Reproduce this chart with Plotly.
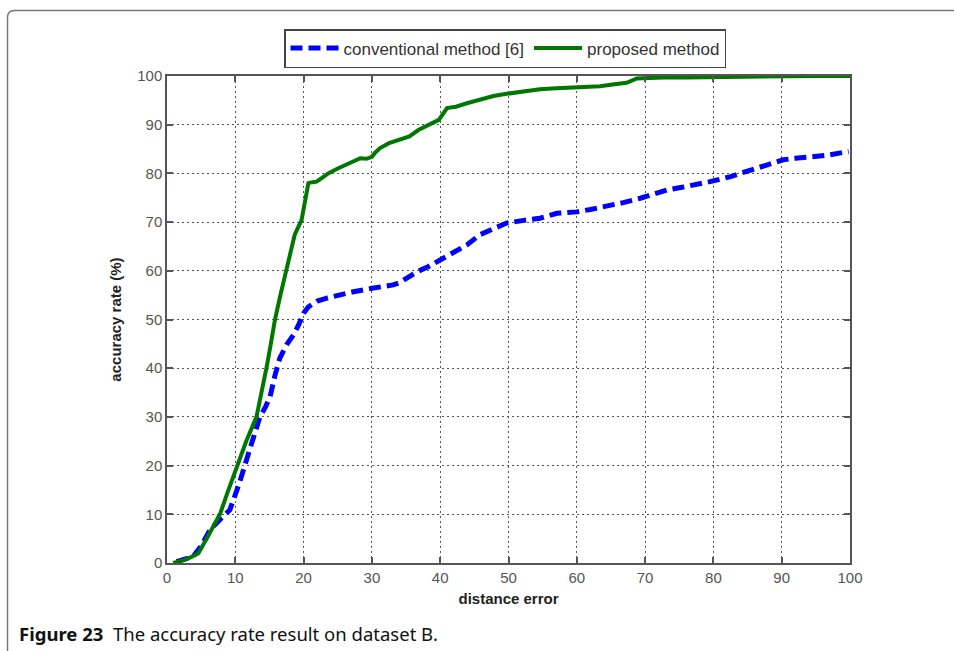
import plotly.graph_objects as go

# ---- data ----
conv_x = [1.4, 2.5, 3.8, 5.0, 6.3, 7.8, 9.2, 10.5, 11.7, 12.7, 13.6, 14.4, 15.1, 15.8, 16.5, 17.5,
          18.5, 19.3, 20.0, 20.7, 22.0, 23.4, 25.5, 27.3, 30.0, 31.5, 33.1, 34.1, 35.5, 36.6, 38.3,
          40.0, 42.0, 43.9, 45.8, 47.8, 49.7, 52.0, 54.6, 57.1, 60.0, 62.0, 64.4, 66.8, 69.3, 71.2,
          73.2, 75.6, 78.0, 79.5, 82.4, 85.4, 87.8, 90.2, 92.0, 93.7, 96.6, 99.8]
conv_y = [0.3, 0.8, 1.3, 3.5, 6.8, 9.0, 10.9, 16.0, 21.1, 25.5, 30.0, 32.0, 34.2, 38.5, 42.0, 44.8,
          46.8, 49.0, 51.3, 52.6, 53.8, 54.4, 55.2, 55.7, 56.4, 56.7, 57.1, 57.6, 58.8, 59.8, 60.9,
          62.2, 63.9, 65.3, 67.4, 68.7, 69.8, 70.3, 70.8, 71.8, 72.1, 72.6, 73.2, 74.0, 74.9, 75.7,
          76.6, 77.2, 77.8, 78.3, 79.3, 80.7, 81.9, 82.8, 83.1, 83.3, 83.7, 84.5]

prop_x = [0.9, 2.5, 3.5, 4.6, 6.0, 7.8, 9.0, 10.2, 11.6, 13.1, 13.9, 14.6, 15.2, 15.8, 16.6, 17.5,
          18.1, 18.7, 19.7, 20.2, 20.7, 21.3, 21.9, 22.7, 23.6, 25.0, 26.5, 28.3, 29.2, 30.0, 30.5,
          31.2, 32.5, 34.1, 35.5, 36.8, 38.0, 39.0, 39.8, 41.0, 42.3, 43.9, 45.8, 47.8, 49.5, 51.7,
          53.2, 54.6, 57.0, 59.5, 61.5, 63.4, 65.5, 67.3, 68.8, 70.5, 72.7, 76.0, 80.0, 85.0, 88.0,
          91.0, 95.0, 100.0]
prop_y = [0.0, 0.6, 1.2, 2.0, 5.5, 10.2, 15.0, 19.8, 25.0, 30.0, 35.0, 40.3, 45.0, 49.9, 55.0, 60.2,
          64.0, 67.4, 70.4, 74.0, 78.0, 78.2, 78.3, 79.1, 80.0, 81.0, 81.9, 83.1, 83.0, 83.4, 84.3,
          85.2, 86.2, 86.9, 87.6, 88.9, 89.8, 90.6, 91.0, 93.4, 93.7, 94.4, 95.1, 95.9, 96.3, 96.8,
          97.0, 97.3, 97.5, 97.7, 97.8, 97.9, 98.3, 98.6, 99.5, 99.6, 99.7, 99.7, 99.8, 99.8, 99.9,
          100.0, 100.0, 100.0]

x_ticks = [0, 10, 20, 30, 40, 50, 60, 70, 80, 90, 100]
y_ticks = [0, 10, 20, 30, 40, 50, 60, 70, 80, 90, 100]

series_names = ["conventional method [6]", "proposed method"]
x_title = "distance error"
y_title = "accuracy rate (%)"
caption = "<b>Figure 23</b>  The accuracy rate result on dataset B."

# ---- figure ----
W, H = 954, 651
L, R, T, B = 167, 104, 76, 88
pw, ph = W - L - R, H - T - B

def px_x(p):
    return (p - L) / pw

def px_y(p):
    return (H - B - p) / ph

fig = go.Figure()
fig.add_trace(go.Scatter(x=conv_x, y=conv_y, mode="lines", name=series_names[0],
                         line=dict(color="#0000ff", width=5, dash="12px,6px")))
fig.add_trace(go.Scatter(x=prop_x, y=prop_y, mode="lines", name=series_names[1],
                         line=dict(color="#007700", width=4)))

axis_common = dict(
    showline=True, linecolor="#555555", linewidth=1.5, mirror="ticks",
    ticks="inside", ticklen=6, tickcolor="#555555", tickwidth=1.5,
    showgrid=True, gridcolor="#555555", griddash="1.5px,3.5px", gridwidth=1.2,
    zeroline=False,
    tickfont=dict(family="Liberation Sans, Arial, sans-serif", size=15, color="#555555"),
)

fig.update_xaxes(range=[0, 100], tickvals=x_ticks, **axis_common,
                 title=dict(text="<b>" + x_title + "</b>", standoff=9,
                            font=dict(family="Liberation Sans, Arial, sans-serif", size=15, color="#222222")))
fig.update_yaxes(range=[0, 100], tickvals=y_ticks, **axis_common,
                 title=dict(text="<b>" + y_title + "</b>", standoff=12,
                            font=dict(family="Liberation Sans, Arial, sans-serif", size=15, color="#222222")))

# figure frame with rounded top-left corner
x0, yt, yb, xr = px_x(7.5), px_y(10.5), px_y(660), px_x(970)
rx, ry = 7 / pw, 7 / ph
fig.add_shape(type="path", xref="paper", yref="paper",
              path=f"M {x0},{yb} L {x0},{yt - ry} Q {x0},{yt} {x0 + rx},{yt} L {xr},{yt}",
              line=dict(color="#777777", width=1.5))

fig.add_annotation(text=caption, xref="paper", yref="paper", x=px_x(17), y=px_y(633),
                   xanchor="left", yanchor="middle", showarrow=False,
                   font=dict(family="Noto Sans, Open Sans, sans-serif", size=18.5, color="#111111"))

fig.update_layout(
    width=W, height=H,
    margin=dict(l=L, r=R, t=T, b=B),
    paper_bgcolor="white", plot_bgcolor="white",
    legend=dict(orientation="h", x=px_x(284), y=px_y(29), xanchor="left", yanchor="top",
                bordercolor="#444444", borderwidth=1.5, bgcolor="white",
                font=dict(family="Liberation Sans, Arial, sans-serif", size=17, color="#333333"),
                itemwidth=48, tracegroupgap=0),
    showlegend=True,
)

fig.write_html("out.html")
